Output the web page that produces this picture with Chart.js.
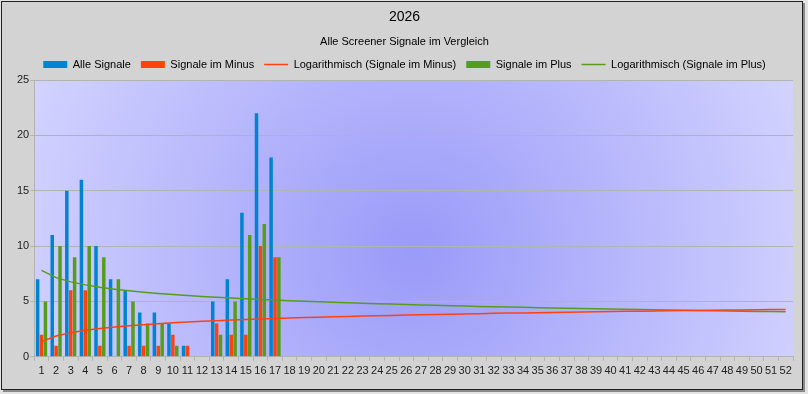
<!DOCTYPE html>
<html>
<head>
<meta charset="utf-8">
<script src="https://cdn.jsdelivr.net/npm/chart.js@4"></script>
<style>
html, body { margin: 0; padding: 0; background: #e4e4e4; }
#frame {
    position: absolute; left: 1px; top: 1px;
    width: 800px; height: 387px;
    border: 1px solid #222; background: #d3d3d3;
    box-shadow: 2px 2px 0 #8a8a8a;
}
canvas { display: block; }
</style>
</head>
<body>
<div id="frame"><canvas id="signalChart" width="800" height="387"></canvas></div>
<script>
// Kalenderwochen (x-Achse)
const weeks = ['1','2','3','4','5','6','7','8','9','10','11','12','13','14','15','16','17','18','19','20',
    '21','22','23','24','25','26','27','28','29','30','31','32','33','34','35','36','37','38','39','40',
    '41','42','43','44','45','46','47','48','49','50','51','52'];

// Signale pro Woche (bis KW 17)
const alleSignale   = [7, 11, 15, 16, 10, 7, 6, 4, 4, 3, 1, 0, 5, 7, 13, 22, 18];
const signaleMinus  = [2, 1, 6, 6, 1, 0, 1, 1, 1, 2, 1, 0, 3, 2, 2, 10, 9];
const signalePlus   = [5, 10, 9, 10, 9, 7, 5, 3, 3, 1, 0, 0, 2, 5, 11, 12, 9];

const yTicks = [0, 5, 10, 15, 20, 25];

// logarithmische Trendlinie y = a + b*ln(x), Kleinste Quadrate
function logTrend(values) {
    let n = 0, sx = 0, sy = 0, sxx = 0, sxy = 0;
    values.forEach((y, i) => {
        const x = Math.log(Number(weeks[i]));
        n++; sx += x; sy += y; sxx += x * x; sxy += x * y;
    });
    const b = (n * sxy - sx * sy) / (n * sxx - sx * sx);
    const a = (sy - b * sx) / n;
    return weeks.map(w => a + b * Math.log(Number(w)));
}

const plotBackground = {
    id: 'plotBackground',
    beforeDraw(chart) {
        const { ctx, chartArea: a } = chart;
        const cx = a.left + a.width * 0.5;
        const cy = a.top + a.height * 0.62;
        const g = ctx.createRadialGradient(cx, cy, 0, cx, cy, a.width * 0.56);
        g.addColorStop(0, '#9a9af9');
        g.addColorStop(1, '#d4d4ff');
        ctx.save();
        ctx.fillStyle = g;
        ctx.fillRect(a.left, a.top, a.width, a.height);
        ctx.restore();
    }
};

const font = 'Liberation Sans';
const ctx = document.getElementById('signalChart').getContext('2d');
new Chart(ctx, {
    data: {
        labels: weeks,
        datasets: [
            {
                type: 'bar', label: 'Alle Signale', data: alleSignale,
                backgroundColor: '#0084d1', order: 1, pointStyle: 'rect'
            },
            {
                type: 'bar', label: 'Signale im Minus', data: signaleMinus,
                backgroundColor: '#ff420e', order: 1, pointStyle: 'rect'
            },
            {
                type: 'line', label: 'Logarithmisch (Signale im Minus)', data: logTrend(signaleMinus),
                borderColor: '#ff420e', backgroundColor: '#ff420e', borderWidth: 1.5,
                pointRadius: 0, order: 0, pointStyle: 'line'
            },
            {
                type: 'bar', label: 'Signale im Plus', data: signalePlus,
                backgroundColor: '#579d1c', order: 1, pointStyle: 'rect'
            },
            {
                type: 'line', label: 'Logarithmisch (Signale im Plus)', data: logTrend(signalePlus),
                borderColor: '#579d1c', backgroundColor: '#579d1c', borderWidth: 1.5,
                pointRadius: 0, order: 0, pointStyle: 'line'
            }
        ]
    },
    options: {
        responsive: false,
        animation: false,
        datasets: {
            bar: { categoryPercentage: 0.8, barPercentage: 0.9, borderWidth: 0 }
        },
        layout: { padding: { left: 14, right: 9, bottom: 7, top: 0 } },
        plugins: {
            title: {
                display: true, text: '2026', color: '#000',
                font: { family: font, size: 14, weight: 'normal' },
                padding: { top: 7, bottom: 6 }
            },
            subtitle: {
                display: true, text: 'Alle Screener Signale im Vergleich', color: '#000',
                font: { family: font, size: 11 },
                padding: { top: 4, bottom: 0 }
            },
            legend: {
                position: 'top',
                labels: {
                    usePointStyle: true, pointStyleWidth: 24, boxHeight: 7,
                    color: '#000', font: { family: font, size: 11 }, padding: 10,
                    sort: (a, b) => a.datasetIndex - b.datasetIndex
                }
            },
            tooltip: { enabled: false }
        },
        scales: {
            x: {
                grid: { display: true, drawOnChartArea: false, color: '#b3b3b3', tickLength: 4 },
                border: { color: '#b3b3b3' },
                ticks: {
                    color: '#222', font: { family: font, size: 11 },
                    autoSkip: false, maxRotation: 0, padding: 4
                }
            },
            y: {
                min: 0, max: 25,
                afterBuildTicks: scale => { scale.ticks = yTicks.map(v => ({ value: v })); },
                grid: { color: '#b3b3b3', tickLength: 4 },
                border: { color: '#b3b3b3' },
                ticks: { color: '#222', font: { family: font, size: 11 }, padding: 1 }
            }
        }
    },
    plugins: [plotBackground]
});
</script>
</body>
</html>
